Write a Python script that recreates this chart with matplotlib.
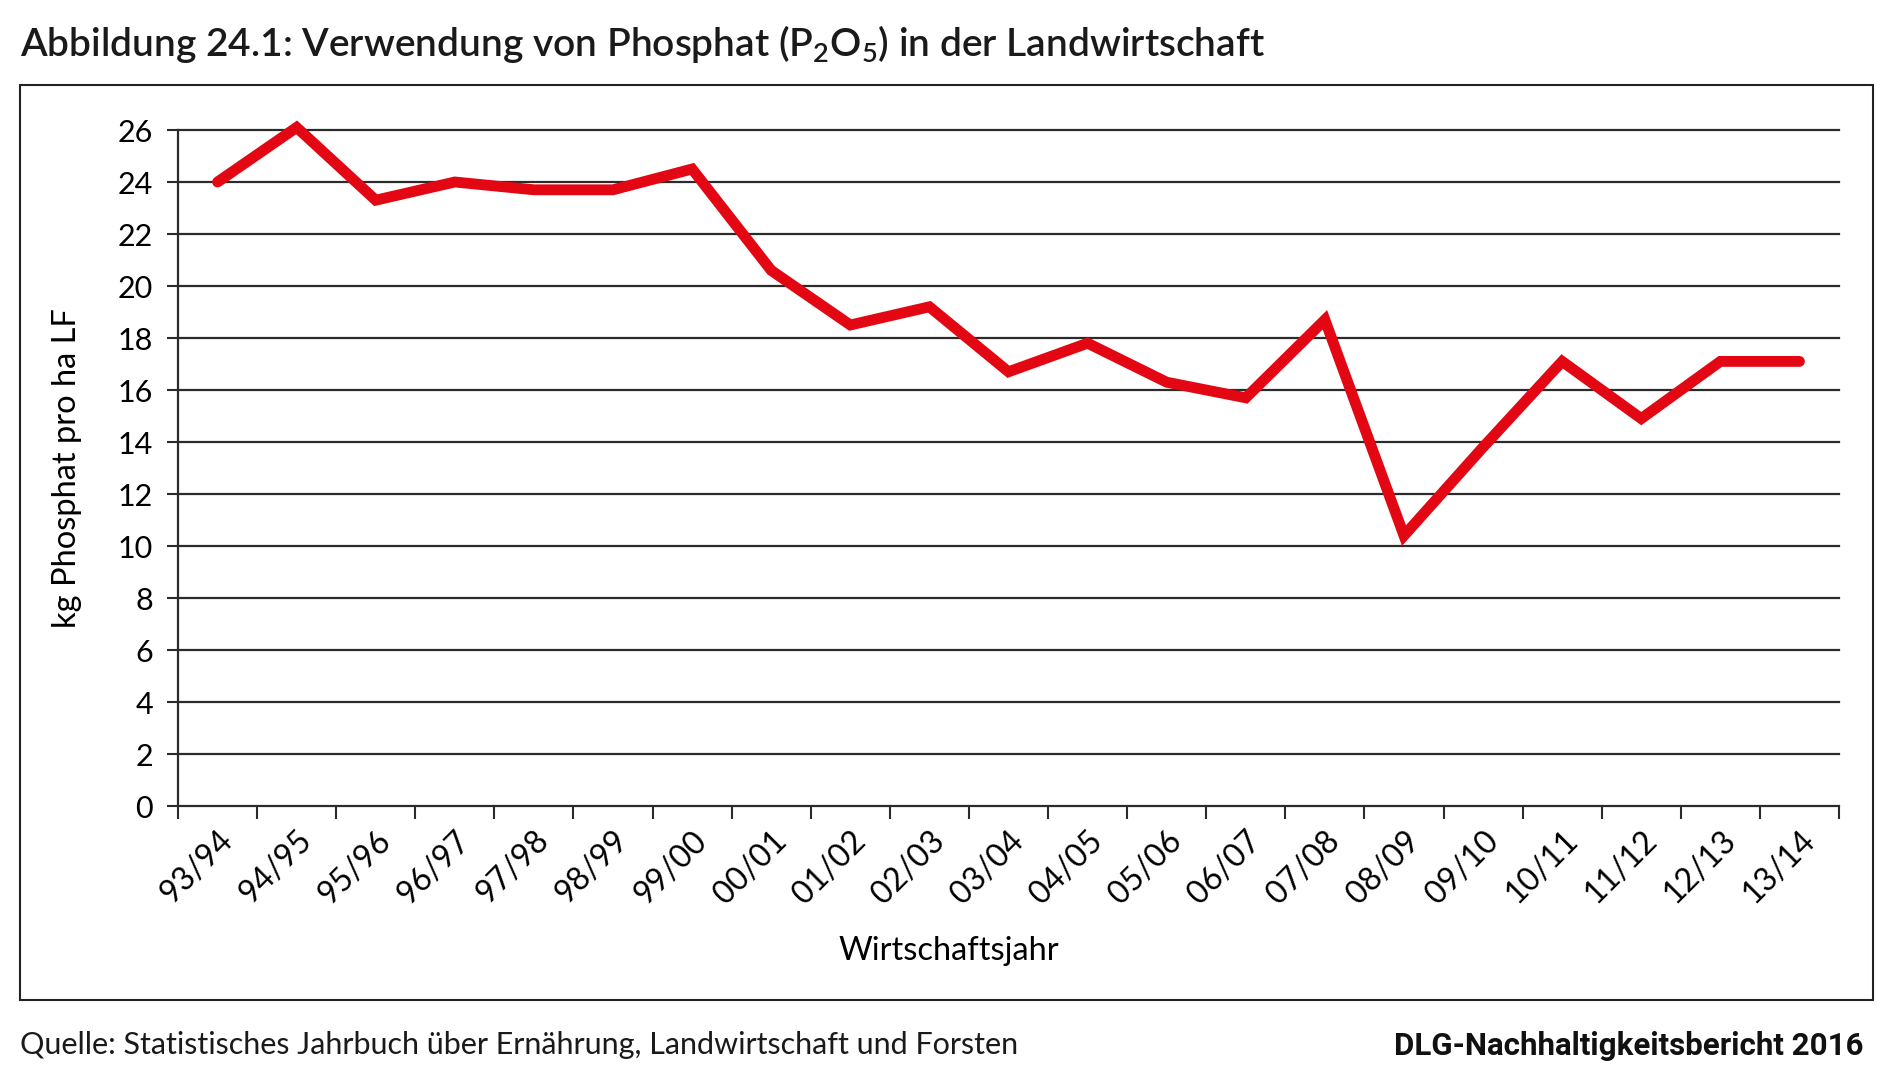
import matplotlib
matplotlib.use("Agg")
from matplotlib import pyplot as plt
from matplotlib.patches import Rectangle

# Wirtschaftsjahre und kg Phosphat (P2O5) pro ha LF
jahre = ["93/94", "94/95", "95/96", "96/97", "97/98", "98/99", "99/00", "00/01",
         "01/02", "02/03", "03/04", "04/05", "05/06", "06/07", "07/08", "08/09",
         "09/10", "10/11", "11/12", "12/13", "13/14"]
phosphat = [24.0, 26.1, 23.3, 24.0, 23.7, 23.7, 24.5, 20.6, 18.5, 19.2, 16.7,
            17.8, 16.3, 15.7, 18.7, 10.4, 13.8, 17.1, 14.9, 17.1, 17.1]
yticks = list(range(0, 27, 2))

plt.rcParams["font.family"] = ["Lato", "DejaVu Sans"]

fig = plt.figure(figsize=(19, 10.81), dpi=100)

# Rahmen um das Diagramm
fig.patches.append(Rectangle((20 / 1900, 1 - 1000 / 1081), 1853 / 1900, 915 / 1081,
                             transform=fig.transFigure, fill=False,
                             edgecolor="#222222", linewidth=1.5))

ax = fig.add_axes([178 / 1900, 275 / 1081, 1661 / 1900, 676 / 1081])

x = list(range(len(jahre)))
ax.plot(x, phosphat, color="#E30613", linewidth=7.8, solid_capstyle="round",
        solid_joinstyle="miter", zorder=3, clip_on=False)

ax.set_xlim(-0.5, len(jahre) - 0.5)
ax.set_ylim(0, 26)
ax.set_yticks(yticks)
ax.set_yticklabels([str(v) for v in yticks], fontsize=22)
for v in yticks[1:]:
    ax.axhline(v, color="#2b2b2b", linewidth=1.6, zorder=1, clip_on=False)

ax.set_xticks([i - 0.5 for i in range(len(jahre) + 1)])
ax.set_xticklabels([])
ax.set_xticks(x, minor=True)
ax.set_xticklabels(jahre, minor=True, rotation=45, ha="right", va="top",
                   rotation_mode="anchor", fontsize=23)
ax.tick_params(axis="x", which="minor", length=0, pad=14)
ax.tick_params(axis="x", which="major", length=9, width=1.5, color="#2b2b2b")
ax.tick_params(axis="y", length=8, width=1.5, color="#2b2b2b", pad=10)

for s in ["top", "right"]:
    ax.spines[s].set_visible(False)
for s in ["left", "bottom"]:
    ax.spines[s].set_linewidth(1.6)
    ax.spines[s].set_color("#2b2b2b")

ax.set_ylabel("kg Phosphat pro ha LF", fontsize=23.5, va="center")
ax.yaxis.set_label_coords(-0.067, 0.5)
ax.set_xlabel("Wirtschaftsjahr", fontsize=23.5, va="center")
ax.xaxis.set_label_coords(0.464, -0.2145)

fig.text(20 / 1900, 1 - 56 / 1081,
         "Abbildung 24.1: Verwendung von Phosphat (P$\\mathregular{_2}$O$\\mathregular{_5}$) in der Landwirtschaft",
         fontsize=28, fontweight="semibold", va="baseline", ha="left", color="#1a1a1a")
fig.text(20 / 1900, 1 - 1054 / 1081,
         "Quelle: Statistisches Jahrbuch über Ernährung, Landwirtschaft und Forsten",
         fontsize=22, va="baseline", ha="left", color="#1a1a1a")
fig.text(1864 / 1900, 1 - 1055 / 1081, "DLG-Nachhaltigkeitsbericht 2016",
         fontsize=22.5, fontweight="bold", family=["Roboto", "DejaVu Sans"],
         va="baseline", ha="right", color="#111111")

fig.savefig("out.png", dpi=100)
